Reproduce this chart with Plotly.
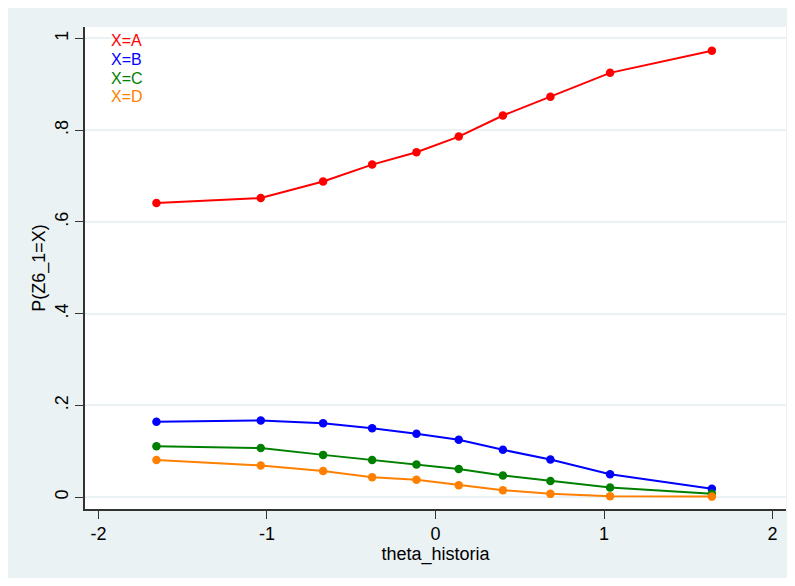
import plotly.graph_objects as go

theta = [-1.656, -1.037, -0.667, -0.376, -0.113, 0.138, 0.400, 0.682, 1.036, 1.640]
p_A = [0.641, 0.652, 0.688, 0.725, 0.752, 0.786, 0.832, 0.873, 0.925, 0.973]
p_B = [0.164, 0.167, 0.161, 0.150, 0.138, 0.125, 0.103, 0.082, 0.050, 0.018]
p_C = [0.111, 0.107, 0.092, 0.081, 0.071, 0.061, 0.047, 0.035, 0.021, 0.007]
p_D = [0.081, 0.069, 0.057, 0.043, 0.038, 0.026, 0.015, 0.007, 0.002, 0.001]
series_names = ["X=A", "X=B", "X=C", "X=D"]
series_colors = ["#ff0000", "#0000ff", "#008000", "#ff8000"]
y_ticks = [0, 0.2, 0.4, 0.6, 0.8, 1]
y_ticklabels = ["0", ".2", ".4", ".6", ".8", "1"]
x_ticks = [-2, -1, 0, 1, 2]
x_ticklabels = ["-2", "-1", "0", "1", "2"]

BG = "#eaf2f3"
FONT = "Liberation Sans, Arial, sans-serif"

fig = go.Figure()
for name, vals, col in zip(series_names, [p_A, p_B, p_C, p_D], series_colors):
    fig.add_trace(go.Scatter(
        x=theta, y=vals, mode="lines+markers", name=name,
        line=dict(color=col, width=2),
        marker=dict(color=col, size=8.5),
        showlegend=False,
    ))

for i, (name, col) in enumerate(zip(series_names, series_colors)):
    fig.add_annotation(
        x=0.036, y=0.971 - i * 0.0385, xref="paper", yref="paper",
        text=name, showarrow=False, xanchor="left", yanchor="middle",
        font=dict(family=FONT, size=16, color=col),
        borderpad=0,
    )

fig.update_layout(
    paper_bgcolor=BG,
    plot_bgcolor="white",
    margin=dict(l=77, r=1, t=19, b=69),
    font=dict(family=FONT, size=18, color="black"),
    xaxis=dict(
        range=[-2.08, 2.08], tickvals=x_ticks, ticktext=x_ticklabels,
        ticks="outside", ticklen=8,
        tickcolor="#333333", showline=True, linecolor="#333333", linewidth=1.5,
        showgrid=False, zeroline=False,
        title=dict(text="theta_historia", font=dict(size=18), standoff=0),
        tickfont=dict(size=18),
    ),
    yaxis=dict(
        range=[-0.026, 1.025], tickvals=y_ticks, ticktext=y_ticklabels,
        ticks="outside", ticklen=8, tickcolor="#333333", tickangle=-90,
        showline=True, linecolor="#333333", linewidth=1.5,
        showgrid=True, gridcolor=BG, gridwidth=1.5, zeroline=False,
        title=dict(text="P(Z6_1=X)", font=dict(size=18), standoff=2),
        tickfont=dict(size=18),
    ),
)

fig.write_html("out.html")
